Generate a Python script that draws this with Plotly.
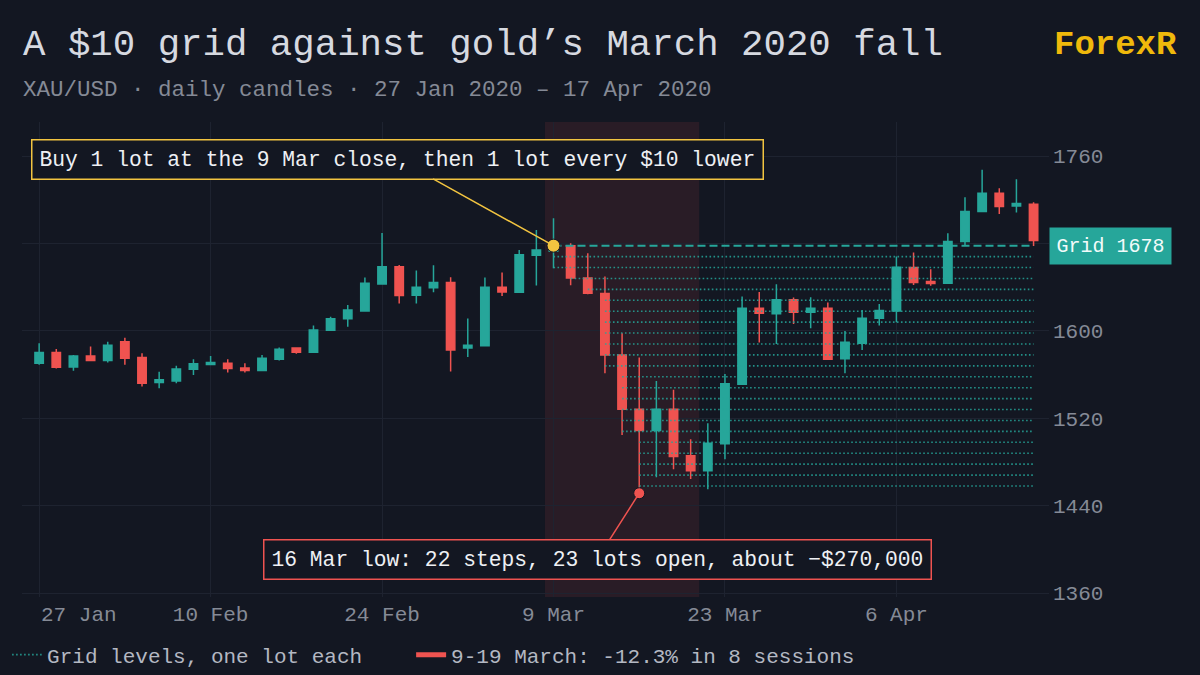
import pandas as pd
import plotly.graph_objects as go

# ---------------- data ----------------
dates = [d.strftime("%Y-%m-%d") for d in pd.bdate_range("2020-01-27", "2020-04-17")
         if d.strftime("%Y-%m-%d") != "2020-04-10"]

opens = [1570.4, 1580.1, 1567.0, 1577.1, 1572.8, 1590.0, 1575.6, 1552.7, 1554.2, 1564.9,
         1569.2, 1570.4, 1566.1, 1563.7, 1574.1, 1584.4, 1580.5, 1600.5, 1611.0, 1618.3,
         1643.0, 1658.6, 1632.7, 1639.4, 1644.2, 1584.4, 1586.3, 1640.0, 1635.4, 1669.3,
         1673.0, 1678.0, 1648.5, 1634.1, 1578.0, 1528.3, 1508.8, 1528.3, 1485.6, 1471.9,
         1496.6, 1551.2, 1620.8, 1615.6, 1628.4, 1617.0, 1620.8, 1574.4, 1588.7, 1611.6,
         1618.3, 1658.0, 1645.1, 1643.6, 1681.7, 1709.2, 1726.0, 1714.4, 1716.0]
highs = [1588.7, 1583.3, 1578.0, 1585.6, 1590.0, 1593.6, 1579.6, 1562.5, 1568.0, 1574.0,
         1577.0, 1574.0, 1570.4, 1578.0, 1584.7, 1585.0, 1604.9, 1613.0, 1623.8, 1648.8,
         1689.7, 1660.4, 1655.2, 1660.0, 1649.0, 1611.3, 1648.8, 1653.4, 1674.0, 1692.4,
         1703.0, 1680.3, 1671.0, 1649.7, 1597.9, 1575.6, 1554.2, 1546.0, 1500.8, 1515.5,
         1560.6, 1631.4, 1635.7, 1642.7, 1630.5, 1630.8, 1626.0, 1600.0, 1619.2, 1624.7,
         1668.0, 1671.7, 1656.5, 1689.4, 1722.4, 1747.4, 1730.6, 1738.9, 1717.8]
lows = [1569.0, 1565.5, 1563.4, 1572.2, 1571.0, 1568.9, 1549.0, 1547.5, 1552.0, 1559.7,
        1568.6, 1561.8, 1561.8, 1563.0, 1572.8, 1579.0, 1580.0, 1600.0, 1603.7, 1618.0,
        1642.5, 1625.0, 1625.0, 1635.4, 1562.8, 1576.0, 1586.0, 1632.0, 1635.0, 1641.5,
        1657.4, 1641.8, 1633.6, 1561.3, 1504.8, 1451.4, 1466.0, 1473.4, 1464.3, 1455.0,
        1482.6, 1551.0, 1589.3, 1588.1, 1606.4, 1602.4, 1573.5, 1561.3, 1582.6, 1604.9,
        1608.0, 1642.0, 1641.2, 1643.0, 1677.8, 1709.0, 1707.0, 1708.3, 1677.8]
closes = [1580.1, 1566.8, 1577.1, 1572.8, 1586.9, 1575.0, 1552.1, 1555.2, 1565.2, 1569.8,
          1571.0, 1565.5, 1563.7, 1575.0, 1583.2, 1580.5, 1600.9, 1611.0, 1619.2, 1643.6,
          1658.6, 1632.3, 1640.0, 1644.2, 1582.6, 1586.9, 1640.0, 1635.7, 1669.6, 1674.0,
          1678.0, 1648.5, 1634.5, 1578.0, 1528.3, 1508.8, 1528.3, 1485.0, 1471.9, 1497.2,
          1551.5, 1620.8, 1616.2, 1628.4, 1617.0, 1620.8, 1574.0, 1589.6, 1611.6, 1618.6,
          1658.3, 1644.2, 1643.3, 1681.7, 1709.2, 1726.0, 1713.8, 1716.5, 1682.7]

tick_dates = ["2020-01-27", "2020-02-10", "2020-02-24", "2020-03-09", "2020-03-23", "2020-04-06"]
tick_labels = ["27 Jan", "10 Feb", "24 Feb", "9 Mar", "23 Mar", "6 Apr"]
y_ticks = [1360, 1440, 1520, 1600, 1680, 1760]
y_tick_labels = ["1360", "1440", "1520", "1600", "", "1760"]  # 1680 sits under the grid tag

buy_date = "2020-03-09"
low_date = "2020-03-16"
window_end = "2020-03-19"
grid_step = 10
grid_steps = 22

# ---------------- styles ----------------
BG = "#131722"
UP = "#26a69a"
DOWN = "#ef5350"
GOLD = "#f0b90b"
YEL = "#f2c440"
GRIDC = "#1e2330"
TXT = "#d6d9e0"
MUTED = "#858a96"
FONT = "Liberation Mono, DejaVu Sans Mono, monospace"

buy_i = dates.index(buy_date)
low_i = dates.index(low_date)
end_i = dates.index(window_end)
buy_price = closes[buy_i]

# grid levels: each dotted line starts on the day price first reached it
gx, gy = [], []
for k in range(1, grid_steps + 1):
    level = buy_price - k * grid_step
    start = next(i for i in range(buy_i, len(dates)) if lows[i] <= level)
    gx += [dates[start], dates[-1], None]
    gy += [level, level, None]

fig = go.Figure()

fig.add_trace(go.Candlestick(
    x=dates, open=opens, high=highs, low=lows, close=closes,
    increasing=dict(line=dict(color=UP, width=1.5), fillcolor=UP),
    decreasing=dict(line=dict(color=DOWN, width=1.5), fillcolor=DOWN),
    whiskerwidth=0, showlegend=False, hoverinfo="skip"))

fig.add_trace(go.Scatter(
    x=gx, y=gy, mode="lines", name="Grid levels, one lot each",
    line=dict(color="rgba(38,166,154,0.85)", width=1.6, dash="1.6px,2.4px"),
    hoverinfo="skip", showlegend=True, legend="legend"))

fig.add_trace(go.Scatter(
    x=[dates[buy_i], dates[-1]], y=[buy_price, buy_price], mode="lines",
    line=dict(color=UP, width=2, dash="8px,4px"), hoverinfo="skip", showlegend=False))

fig.add_trace(go.Scatter(
    x=[None], y=[None], mode="lines",
    name="9-19 March: -12.3% in 8 sessions",
    line=dict(color=DOWN, width=5), showlegend=True, legend="legend2"))

fig.add_trace(go.Scatter(
    x=[dates[buy_i]], y=[buy_price], mode="markers",
    marker=dict(color=YEL, size=13, line=dict(color=BG, width=1)),
    showlegend=False, hoverinfo="skip"))

fig.add_trace(go.Scatter(
    x=[dates[low_i]], y=[lows[low_i]], mode="markers",
    marker=dict(color=DOWN, size=11, line=dict(color=BG, width=1)),
    showlegend=False, hoverinfo="skip"))

fig.add_shape(type="rect", xref="x", yref="paper",
              x0=buy_i - 0.5, x1=end_i + 0.5, y0=0, y1=1,
              fillcolor="rgba(239,83,80,0.10)", line=dict(width=0), layer="below")

annotations = [
    dict(xref="paper", yref="paper", x=-0.001, y=1.162, xanchor="left", yanchor="middle",
         text="A $10 grid against gold’s March 2020 fall", showarrow=False,
         font=dict(family=FONT, size=37.4, color=TXT)),
    dict(xref="paper", yref="paper", x=-0.001, y=1.068, xanchor="left", yanchor="middle",
         text="XAU/USD · daily candles · 27 Jan 2020 – 17 Apr 2020", showarrow=False,
         font=dict(family=FONT, size=22.5, color=MUTED)),
    dict(xref="paper", yref="paper", x=1.127, y=1.162, xanchor="right", yanchor="middle",
         text="<b>ForexR</b>", showarrow=False,
         font=dict(family=FONT, size=34, color=GOLD)),
    dict(x=dates[buy_i], y=buy_price, xref="x", yref="y",
         text="Buy 1 lot at the 9 Mar close, then 1 lot every $10 lower",
         showarrow=True, arrowhead=0, arrowwidth=1.5, arrowcolor=YEL,
         ax=-156, ay=-86.5, bgcolor=BG, bordercolor=YEL, borderwidth=1.5, borderpad=7,
         font=dict(family=FONT, size=21.3, color="#eef0f4")),
    dict(x=dates[low_i], y=lows[low_i], xref="x", yref="y",
         text="16 Mar low: 22 steps, 23 lots open, about −$270,000",
         showarrow=True, arrowhead=0, arrowwidth=1.5, arrowcolor=DOWN,
         ax=-42, ay=66, bgcolor=BG, bordercolor=DOWN, borderwidth=1.5, borderpad=7,
         font=dict(family=FONT, size=21.3, color="#eef0f4")),
    dict(xref="paper", yref="y", x=1.0, y=buy_price, xanchor="left", yanchor="middle",
         text="Grid %d" % round(buy_price), showarrow=False, bgcolor=UP, borderpad=6.5,
         font=dict(family=FONT, size=20, color="#f2fbfa")),
    # first date label sits right of its gridline so it stays inside the frame
    dict(xref="x", yref="paper", x=tick_dates[0], y=-0.038, xanchor="left", yanchor="middle",
         text=tick_labels[0], showarrow=False,
         font=dict(family=FONT, size=21, color=MUTED)),
]

legend_font = dict(family=FONT, size=21, color="#b4b8c2")

fig.update_layout(
    template="none",
    width=1200, height=675,
    margin=dict(l=22, r=151, t=122, b=78, autoexpand=False),
    paper_bgcolor=BG, plot_bgcolor=BG,
    font=dict(family=FONT, color=MUTED),
    annotations=annotations,
    hovermode=False,
    showlegend=True,
    legend=dict(orientation="h", xref="container", yref="container",
                x=0.0059, xanchor="left", y=0.0296, yanchor="middle",
                font=legend_font, bgcolor="rgba(0,0,0,0)", borderwidth=0),
    legend2=dict(orientation="h", xref="container", yref="container",
                 x=0.3426, xanchor="left", y=0.0296, yanchor="middle",
                 font=legend_font, bgcolor="rgba(0,0,0,0)", borderwidth=0),
    xaxis=dict(type="category", categoryorder="array", categoryarray=dates,
               range=[-1, 58.9], rangeslider=dict(visible=False), automargin=False,
               tickmode="array", tickvals=tick_dates, ticktext=[""] + tick_labels[1:],
               showgrid=True, gridcolor=GRIDC, gridwidth=1, zeroline=False, showline=False,
               ticks="", ticklabelstandoff=2,
               tickfont=dict(family=FONT, size=21, color=MUTED)),
    yaxis=dict(side="right", range=[1356.4, 1791.2], tickmode="array", tickvals=y_ticks,
               ticktext=y_tick_labels, automargin=False,
               showgrid=True, gridcolor=GRIDC, gridwidth=1, zeroline=False, showline=False,
               ticks="", ticklabelstandoff=3,
               tickfont=dict(family=FONT, size=21, color=MUTED)),
)

fig.write_html("out.html", config={"displayModeBar": False}, post_script=(
    "document.body.style.margin='0';document.body.style.padding='0';"
    "document.body.style.background='%s';document.body.style.overflow='hidden';" % BG))
